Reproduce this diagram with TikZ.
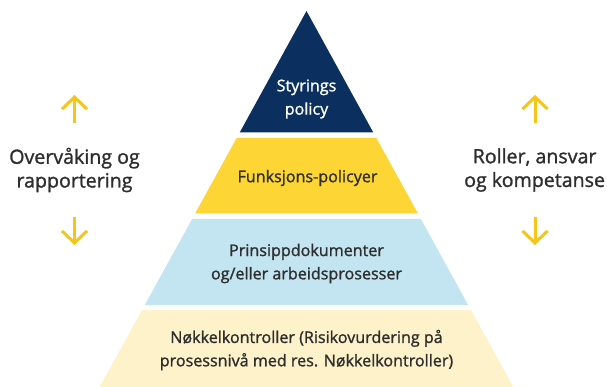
\documentclass[tikz,border=0pt]{standalone}
\usepackage{fontspec}
\setmainfont{Open Sans}[FakeBold=1.3]
\usetikzlibrary{arrows.meta}
\definecolor{navy}{HTML}{0B2F5E}
\definecolor{gold}{HTML}{FDD535}
\definecolor{skyband}{HTML}{C3E5F1}
\definecolor{creamband}{HTML}{FDF2C9}
\definecolor{arrowgold}{HTML}{F5C518}
\definecolor{txt}{HTML}{2E2E2E}
\begin{document}
\begin{tikzpicture}[x=1pt,y=-1pt,
  lbl/.style={align=center, text=txt, font=\fontsize{16.1}{23.3}\selectfont, inner sep=0pt},
  side/.style={align=center, text=txt, font=\fontsize{19.6}{23.7}\selectfont, inner sep=0pt},
  updown/.style={draw=arrowgold, line width=3pt, -{Straight Barb[length=12pt,width=25pt]}}]
\useasboundingbox (0,0) rectangle (607,387);
% bands
\fill[navy] (306.5,11) -- (373.3,132.5) -- (239.7,132.5) -- cycle;
\fill[gold] (236.65,138) -- (376.35,138) -- (417.9,213.5) -- (195.1,213.5) -- cycle;
\fill[skyband] (192.1,219) -- (420.9,219) -- (468.2,305) -- (144.8,305) -- cycle;
\fill[creamband] (142.05,310) -- (470.95,310) -- (513.3,387) -- (99.7,387) -- cycle;
% labels
\node[lbl, text=white] (styr) at (306.5,99) {Styrings\\policy};
\node[lbl] (funk) at (307.5,178) {Funksjons-policyer};
\node[lbl] (prin) at (306.5,263.5) {Prinsippdokumenter\\og/eller arbeidsprosesser};
\node[lbl] (nokk) at (306.5,350) {Nøkkelkontroller (Risikovurdering på\\prosessnivå med res. Nøkkelkontroller)};
\node[side] (over) at (74.5,170) {Overvåking og\\rapportering};
\node[side] (roll) at (534.6,170) {Roller, ansvar\\og kompetanse};
% arrows
\coordinate (lua) at (74.5,123); \coordinate (lut) at (74.5,95);
\coordinate (lda) at (74.5,217); \coordinate (ldt) at (74.5,245);
\coordinate (rua) at (535,123); \coordinate (rut) at (535,95);
\coordinate (rda) at (535,217); \coordinate (rdt) at (535,245);
\draw[updown] (lua) -- (lut);
\draw[updown] (lda) -- (ldt);
\draw[updown] (rua) -- (rut);
\draw[updown] (rda) -- (rdt);
\end{tikzpicture}
\end{document}
